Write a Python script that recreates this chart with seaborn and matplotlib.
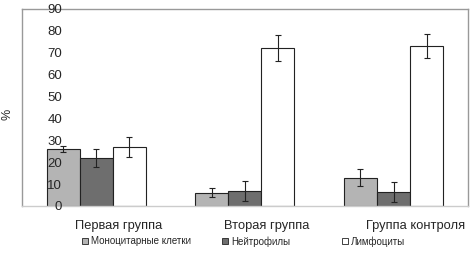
import numpy as np
import pandas as pd
import seaborn as sns
import matplotlib.pyplot as plt
import matplotlib.transforms as mtransforms

groups = ["Первая группа", "Вторая группа", "Группа контроля"]
cells = ["Моноцитарные клетки", "Нейтрофилы", "Лимфоциты"]
mono = [26, 6, 13]
neutro = [22, 7, 6.5]
lymph = [27, 72, 73]
mono_err = [1.5, 2, 4]
neutro_err = [4, 4.5, 4.5]
lymph_err = [4.5, 6, 5.5]
colors = ["#b4b4b4", "#6e6e6e", "#ffffff"]

df = pd.DataFrame({
    "group": groups * 3,
    "cell": [c for c in cells for _ in groups],
    "value": mono + neutro + lymph,
    "err": mono_err + neutro_err + lymph_err,
})

sns.set_style("white")
plt.rcParams["font.family"] = ["Liberation Sans", "DejaVu Sans"]

fig = plt.figure(figsize=(4.75, 2.54), dpi=100)
ax = fig.add_axes([0.046, 0.189, 0.939, 0.776])

sns.barplot(data=df, x="group", y="value", hue="cell", order=groups,
            hue_order=cells, palette=colors, width=0.667, gap=0,
            edgecolor="#222222", linewidth=0.8, errorbar=None, ax=ax,
            legend=False)

# error bars on bar centres
for cont, c in zip(ax.containers, cells):
    sub = df[df["cell"] == c].set_index("group").loc[groups]
    xs = [p.get_x() + p.get_width() / 2 for p in cont.patches]
    ax.errorbar(xs, sub["value"], yerr=sub["err"], fmt="none",
                ecolor="#222222", elinewidth=0.8, capsize=2, capthick=0.8)

ax.set_axisbelow(False)
ax.xaxis.set_zorder(5)
ax.yaxis.set_zorder(5)
ax.set_xlim(-0.5, 2.5)
ax.set_ylim(0, 90)
ax.set_yticks(range(0, 91, 10))
ax.tick_params(axis="y", pad=-29, length=0, labelsize=9.5)
for t in ax.get_yticklabels():
    t.set_horizontalalignment("right")
ax.set_xticks([0, 1, 2])
ax.set_xticklabels(groups, fontsize=9.3)
ax.tick_params(axis="x", length=0, pad=10)
# category labels sit a bit right of the bar groups in the original
shift = mtransforms.ScaledTranslation(0.22, 0, fig.dpi_scale_trans)
for t in ax.get_xticklabels():
    t.set_transform(t.get_transform() + shift)
ax.set_xticks([0.5, 1.5], minor=True)
ax.tick_params(axis="x", which="minor", length=3, color="#bbbbbb")
ax.set_xlabel("")
ax.set_ylabel("%", fontsize=9, labelpad=0)
ax.yaxis.set_label_coords(-0.018, 0.467)

for s in ax.spines.values():
    s.set_color("#999999")
    s.set_linewidth(1)
ax.spines["bottom"].set_color("#cccccc")

# legend entries are spaced unevenly in the original, so one legend each
leg_x = [0.173, 0.468, 0.72]
for col, lab, lx in zip(colors, cells, leg_x):
    h = plt.Rectangle((0, 0), 1, 1, facecolor=col, edgecolor="#222222",
                      linewidth=0.6)
    fig.legend([h], [lab], loc="center left", bbox_to_anchor=(lx, 0.05),
               frameon=False, fontsize=7, handlelength=0.6,
               handleheight=0.6, handletextpad=0.3, borderpad=0,
               borderaxespad=0)

fig.savefig("out.png", dpi=100)
